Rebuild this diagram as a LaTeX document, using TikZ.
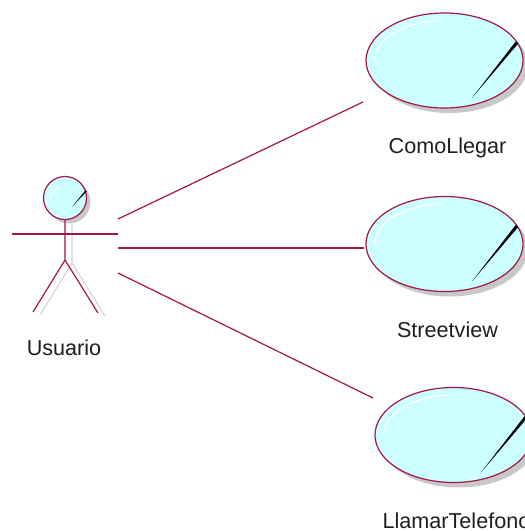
\documentclass[tikz,border=0pt]{standalone}
\usepackage{fontspec}
\setmainfont{Liberation Sans}
\usetikzlibrary{shapes.geometric,shadows}
\definecolor{umlred}{RGB}{163,22,75}
\definecolor{uccyan}{RGB}{204,255,255}
\definecolor{shadowgray}{RGB}{200,200,200}
\definecolor{legshadow}{RGB}{215,215,215}
\begin{document}
\begin{tikzpicture}[x=1pt,y=-1pt,
  usecase/.style={ellipse, draw=umlred, line width=1.2pt, fill=uccyan,
    minimum width=157pt, minimum height=95pt, inner sep=0pt,
    drop shadow={shadow xshift=5pt, shadow yshift=-5pt, fill=shadowgray, opacity=1}},
  headstyle/.style={circle, draw=umlred, line width=1.2pt, fill=uccyan,
    minimum size=43pt, inner sep=0pt,
    drop shadow={shadow xshift=4pt, shadow yshift=-4pt, fill=shadowgray, opacity=1}},
  lbl/.style={font=\fontsize{21.6}{25}\selectfont, text=black!88, anchor=base, inner sep=0pt},
  conn/.style={draw=umlred, line width=1.2pt},
  ghost/.style={draw=legshadow, line width=1.2pt},
  highlight/.style={draw=white, line width=1.2pt},
  ucdeco/.pic={
    \draw[highlight] (-70,0) arc[start angle=180, end angle=95, x radius=70pt, y radius=40pt];
    \fill[black] (27,38) -- (73.6,-16.9) -- (71.2,-19) -- cycle;
  }
]
\clip (0,0) rectangle (525,531);

% use cases
\node[usecase] (uc1) at (444.5,60.5) {};
\node[usecase] (uc2) at (444.5,244) {};
\node[usecase] (uc3) at (453.5,435) {};
\pic at (uc1.center) {ucdeco};
\pic at (uc2.center) {ucdeco};
\pic at (uc3.center) {ucdeco};

\node[lbl] (l1) at (447.5,153) {ComoLlegar};
\node[lbl] (l2) at (447.5,337) {Streetview};
\node[lbl] (l3) at (456.5,528) {LlamarTelefono};

% actor shadow
\coordinate (ghip) at (72,263);
\coordinate (gneck) at (72,223);
\coordinate (glegL) at (40,315);
\coordinate (glegR) at (105,316);
\draw[ghost] (gneck) -- (ghip) -- (glegL);
\draw[ghost] (ghip) -- (glegR);

% actor
\node[headstyle] (head) at (65,198) {};
\draw[highlight] (head.center) ++(-15,2) arc[start angle=175, end angle=110, radius=15pt];
\fill[black] (72,207) -- (86.6,191.4) -- (85.4,190.4) -- cycle;
\coordinate (hip) at (65,260);
\coordinate (legL) at (33,312);
\coordinate (legR) at (98,313);
\coordinate (armL) at (12,234);
\coordinate (armR) at (118,234);
\draw[conn] (head.south) -- (hip) -- (legL);
\draw[conn] (hip) -- (legR);
\draw[conn] (armL) -- (armR);
\node[lbl] (actorlbl) at (64,355) {Usuario};

% connectors
\coordinate (a1) at (118,219);
\coordinate (e1) at (363,102);
\coordinate (a2) at (118,248);
\coordinate (e2) at (364,248);
\coordinate (a3) at (118,273);
\coordinate (e3) at (373,398);
\draw[conn] (a1) -- (e1);
\draw[conn] (a2) -- (e2);
\draw[conn] (a3) -- (e3);
\end{tikzpicture}
\end{document}
